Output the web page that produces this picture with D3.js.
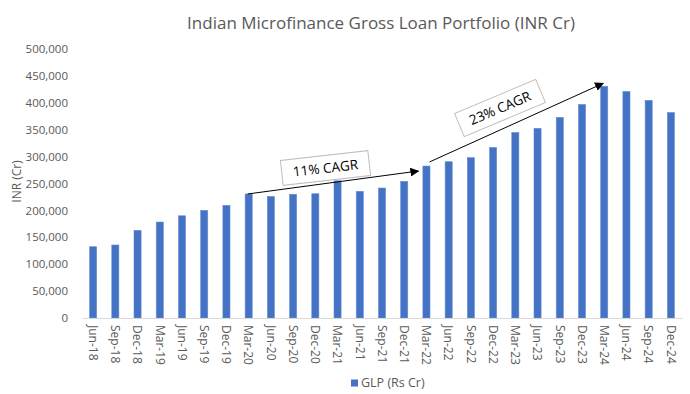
<!DOCTYPE html>
<html>
<head>
<meta charset="utf-8">
<script src="https://cdn.jsdelivr.net/npm/d3@7"></script>
<style>
  body { margin: 0; background: #fff; }
  text { font-family: "Open Sans", "Noto Sans", sans-serif; fill: #595959; }
</style>
</head>
<body>
<div id="vis"></div>
<script>
// quarters and gross loan portfolio (INR Cr)
const quarters = ['Jun-18','Sep-18','Dec-18','Mar-19','Jun-19','Sep-19','Dec-19','Mar-20','Jun-20','Sep-20',
    'Dec-20','Mar-21','Jun-21','Sep-21','Dec-21','Mar-22','Jun-22','Sep-22','Dec-22','Mar-23','Jun-23',
    'Sep-23','Dec-23','Mar-24','Jun-24','Sep-24','Dec-24']
const glp = [132500, 135700, 163000, 178400, 190000, 200000, 209500, 230500, 226000, 230000,
    231000, 255000, 235500, 241600, 254000, 282500, 290500, 298000, 317000, 345000, 352600,
    373000, 397000, 430700, 421000, 404600, 382000]
const yTicks = [0, 50000, 100000, 150000, 200000, 250000, 300000, 350000, 400000, 450000, 500000]

// CAGR annotations: start quarter, end quarter, label
const cagrNotes = [
    {from: 'Mar-20', to: 'Mar-22', label: '11% CAGR'},
    {from: 'Mar-22', to: 'Mar-24', label: '23% CAGR'}
]

const W = 690, H = 394
const margin = {left: 82, top: 49, bottom: 76, right: 8}

const svg = d3.select('#vis').append('svg')
    .attr('width', W)
    .attr('height', H)

const x = d3.scaleBand(quarters, [margin.left, W - margin.right]).paddingInner(0.68).paddingOuter(0.34)
const y = d3.scaleLinear([0, 500000], [H - margin.bottom, margin.top])

svg.append('defs').append('marker')
    .attr('id', 'arrow')
    .attr('viewBox', '0 0 10 10')
    .attr('refX', 9).attr('refY', 5)
    .attr('markerWidth', 9).attr('markerHeight', 9)
    .attr('markerUnits', 'userSpaceOnUse')
    .attr('orient', 'auto')
  .append('path')
    .attr('d', 'M0,0 L10,5 L0,10 Z')
    .attr('fill', '#000')

// title
svg.append('text')
    .attr('x', 381).attr('y', 29)
    .attr('text-anchor', 'middle')
    .style('font-size', '17px')
    .text('Indian Microfinance Gross Loan Portfolio (INR Cr)')

// y axis labels (no line)
const yAxis = svg.append('g')
    .attr('transform', `translate(${margin.left - 11},0)`)
    .call(d3.axisLeft(y).tickValues(yTicks).tickSize(0).tickFormat(d3.format(',')))
yAxis.select('.domain').remove()
yAxis.selectAll('text').style('font-size', '11.5px').attr('fill', '#595959')

svg.append('text')
    .attr('transform', `translate(21,${y(250000) - 2}) rotate(-90)`)
    .attr('text-anchor', 'middle')
    .style('font-size', '12px')
    .text('INR (Cr)')

// bars
svg.selectAll('.bar')
    .data(quarters)
    .enter()
    .append('rect')
    .attr('class', 'bar')
    .attr('x', d => x(d))
    .attr('width', x.bandwidth())
    .attr('y', (d, i) => y(glp[i]))
    .attr('height', (d, i) => y(0) - y(glp[i]))
    .attr('fill', '#4472C4')
    .attr('stroke', '#6a8fd3')
    .attr('stroke-width', 0.6)

// x axis
const xAxis = svg.append('g')
    .attr('transform', `translate(0,${y(0)})`)
    .call(d3.axisBottom(x).tickSize(0).tickSizeOuter(0))
xAxis.select('.domain').attr('stroke', '#d9d9d9').attr('stroke-width', 1)
xAxis.selectAll('text')
    .style('font-size', '12px')
    .attr('fill', '#595959')
    .attr('text-anchor', 'start')
    .attr('transform', 'rotate(90)')
    .attr('x', 7)
    .attr('y', 0)
    .attr('dy', '0.35em')

// CAGR arrows and boxed labels
const val = q => glp[quarters.indexOf(q)]
const cx = q => x(q) + x.bandwidth() / 2

const a1 = cagrNotes[0], a2 = cagrNotes[1]
const arrows = [
    {x1: cx(a1.from) - 1, y1: y(val(a1.from)), x2: cx(a1.to) - 8, y2: y(val(a1.to)) + 5},
    {x1: cx(a2.from) + 3, y1: y(val(a2.from)) - 4, x2: cx(a2.to) - 1, y2: y(val(a2.to)) - 3}
]
svg.selectAll('.cagr-line')
    .data(arrows)
    .enter()
    .append('line')
    .attr('class', 'cagr-line')
    .attr('x1', d => d.x1).attr('y1', d => d.y1)
    .attr('x2', d => d.x2).attr('y2', d => d.y2)
    .attr('stroke', '#000')
    .attr('stroke-width', 1)
    .attr('marker-end', 'url(#arrow)')

const boxes = [
    {cx: 325.5, cy: 168, angle: -6.5, label: a1.label},
    {cx: 500, cy: 108, angle: -22.8, label: a2.label}
]
const boxG = svg.selectAll('.cagr-box')
    .data(boxes)
    .enter()
    .append('g')
    .attr('class', 'cagr-box')
    .attr('transform', d => `translate(${d.cx},${d.cy}) rotate(${d.angle})`)
boxG.append('rect')
    .attr('x', -44).attr('y', -12.5)
    .attr('width', 88).attr('height', 25)
    .attr('fill', '#fff')
    .attr('stroke', '#bfbfbf')
    .attr('stroke-width', 1)
boxG.append('text')
    .attr('text-anchor', 'middle')
    .attr('dy', '0.36em')
    .style('font-size', '13.5px')
    .style('fill', '#000')
    .text(d => d.label)

// legend
const legend = svg.append('g').attr('transform', 'translate(351,383)')
legend.append('rect')
    .attr('x', 0).attr('y', -3.5)
    .attr('width', 7).attr('height', 7)
    .attr('fill', '#4472C4')
legend.append('text')
    .attr('x', 10).attr('dy', '0.35em')
    .style('font-size', '12.5px')
    .text('GLP (Rs Cr)')
</script>
</body>
</html>
